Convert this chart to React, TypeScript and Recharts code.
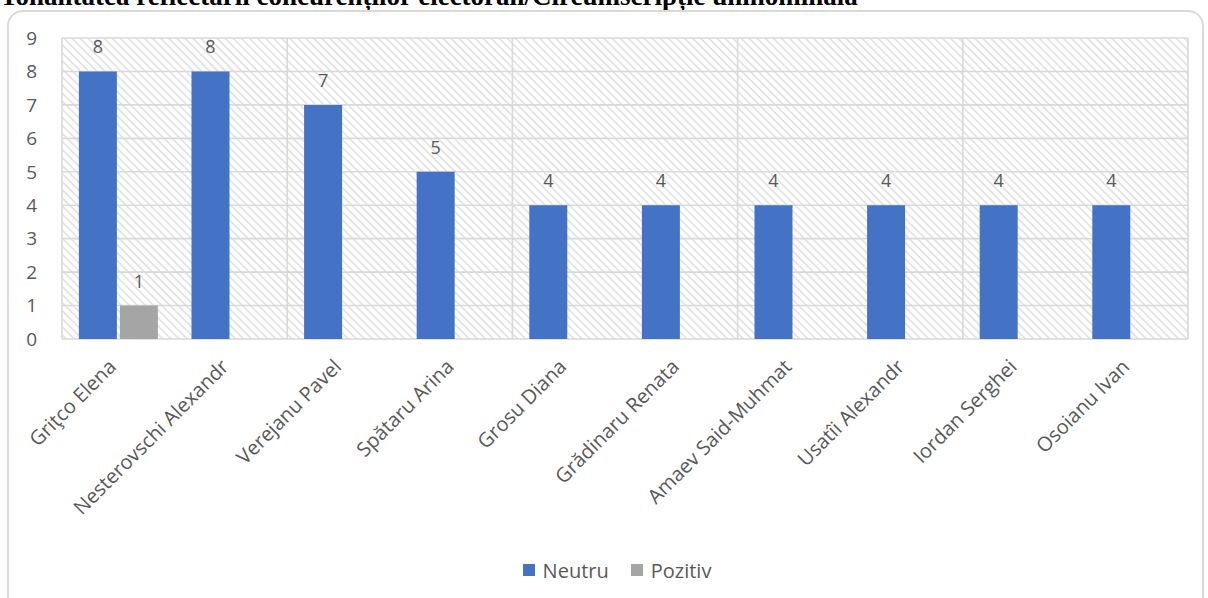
import React from "react";
import { BarChart, Bar, XAxis, YAxis, CartesianGrid, Legend, LabelList } from "recharts";

const categories = [
  "Griţco Elena",
  "Nesterovschi Alexandr",
  "Verejanu Pavel",
  "Spătaru Arina",
  "Grosu Diana",
  "Grădinaru Renata",
  "Amaev Said-Muhmat",
  "Usatîi Alexandr",
  "Iordan Serghei",
  "Osoianu Ivan",
];
const neutru = [8, 8, 7, 5, 4, 4, 4, 4, 4, 4];
const pozitiv: (number | null)[] = [1, null, null, null, null, null, null, null, null, null];
const yTicks = [0, 1, 2, 3, 4, 5, 6, 7, 8, 9];

const data = categories.map((name, i) => ({ name, Neutru: neutru[i], Pozitiv: pozitiv[i] }));

const FONT = "'Open Sans', sans-serif";
const TEXT = "#595959";

const XTick = (props: any) => {
  const { x, y, payload } = props;
  return (
    <g transform={`translate(${x - 1},${y + 29})`}>
      <text x={0} y={0} textAnchor="end" transform="rotate(-45)" fill={TEXT} fontSize={20} fontFamily={FONT}>
        {payload.value}
      </text>
    </g>
  );
};

const LegendContent = (props: any) => {
  const { payload } = props;
  return (
    <div style={{ display: "flex", justifyContent: "center", alignItems: "center", fontFamily: FONT, fontSize: 20, color: TEXT, height: 30, paddingLeft: 36 }}>
      {payload.map((p: any, i: number) => (
        <div key={i} style={{ display: "flex", alignItems: "center", marginRight: i === 0 ? 22 : 0 }}>
          <span style={{ display: "inline-block", width: 12, height: 12, background: p.color, marginRight: 8 }} />
          <span>{p.value}</span>
        </div>
      ))}
    </div>
  );
};

export default function App() {
  return (
    <div style={{ position: "absolute", left: 0, top: 0, width: 1208, height: 598, overflow: "hidden", background: "#fff" }}>
      <div
        style={{
          position: "absolute",
          left: 0,
          top: -17,
          fontFamily: "'Liberation Serif', serif",
          fontWeight: "bold",
          fontSize: 27,
          lineHeight: "27px",
          whiteSpace: "nowrap",
          color: "#000",
        }}
      >
        Tonalitatea reflectării concurenților electorali/Circumscripție uninominală
      </div>
      <div
        style={{
          position: "absolute",
          left: 7,
          top: 10,
          width: 1197,
          height: 640,
          border: "2px solid #d9d9d9",
          borderRadius: 16,
          boxSizing: "border-box",
        }}
      />
      <div style={{ position: "absolute", left: 0, top: 0 }}>
        <BarChart
          width={1208}
          height={598}
          data={data}
          margin={{ top: 38, right: 20, left: 10, bottom: 13 }}
          barCategoryGap="15%"
          barGap={3}
        >
          <defs>
            <pattern id="hatch" width="5.7" height="5.7" patternUnits="userSpaceOnUse" patternTransform="rotate(-45)">
              <line x1="1" y1="0" x2="1" y2="5.7" stroke="#e3e3e3" strokeWidth={1.8} />
            </pattern>
          </defs>
          <CartesianGrid
            stroke="#d9d9d9"
            strokeWidth={1.6}
            fill="url(#hatch)"
            fillOpacity={1}
            verticalCoordinatesGenerator={(p: any) => {
              const o = p.offset;
              const pts: number[] = [];
              for (let i = 0; i <= categories.length; i += 2) pts.push(o.left + (o.width * i) / categories.length);
              return pts;
            }}
          />
          <XAxis
            dataKey="name"
            interval={0}
            tickLine={false}
            axisLine={false}
            tickSize={0}
            tickMargin={0}
            height={216}
            tick={<XTick />}
          />
          <YAxis
            domain={[0, 9]}
            ticks={yTicks}
            interval={0}
            width={52}
            tickLine={false}
            axisLine={false}
            tickSize={0}
            tickMargin={25}
            tick={{ fill: TEXT, fontSize: 19, fontFamily: FONT }}
          />
          <Legend verticalAlign="bottom" height={30} content={<LegendContent />} />
          <Bar dataKey="Neutru" fill="#4472C4" isAnimationActive={false}>
            <LabelList dataKey="Neutru" position="top" offset={18} fill={TEXT} fontSize={18} fontFamily={FONT} />
          </Bar>
          <Bar dataKey="Pozitiv" fill="#A5A5A5" isAnimationActive={false}>
            <LabelList dataKey="Pozitiv" position="top" offset={18} fill={TEXT} fontSize={18} fontFamily={FONT} />
          </Bar>
        </BarChart>
      </div>
    </div>
  );
}
